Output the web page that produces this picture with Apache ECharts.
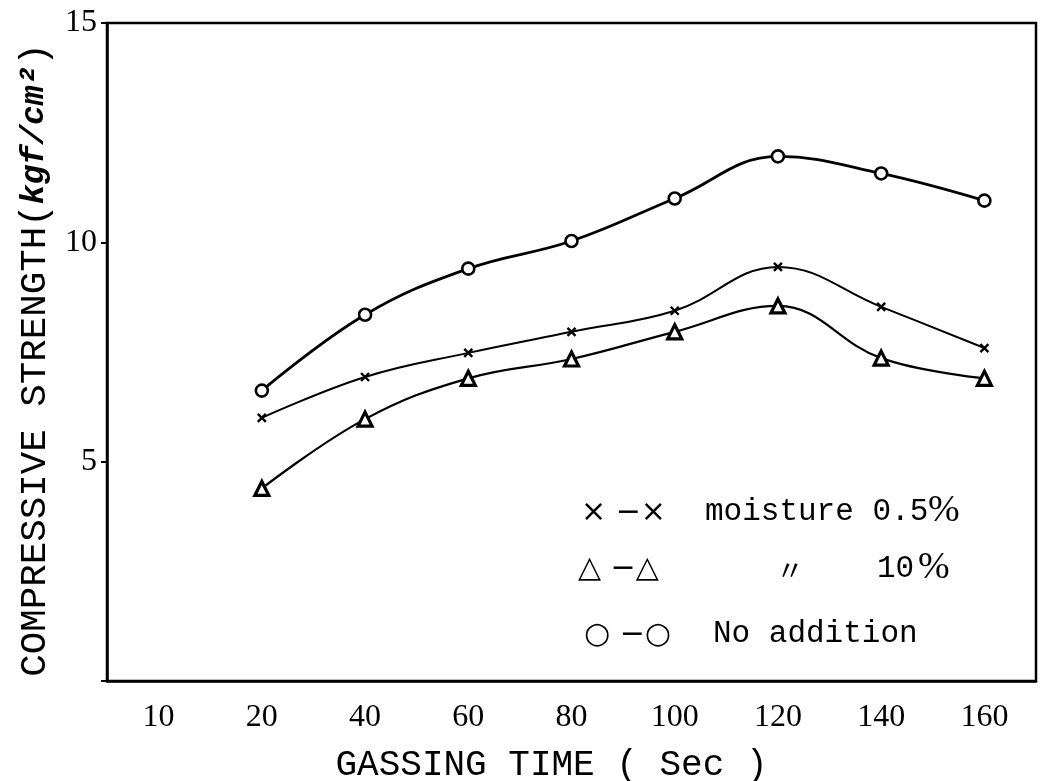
<!DOCTYPE html>
<html>
<head>
<meta charset="utf-8">
<script src="https://cdn.jsdelivr.net/npm/echarts@6/dist/echarts.min.js"></script>
<style>html,body{margin:0;padding:0;background:#fff}#c{width:1048px;height:781px}</style>
</head>
<body>
<div id="c"></div>
<script>
// ---- data ----
const categories = ['10', '20', '40', '60', '80', '100', '120', '140', '160'];
const moisture05 = [null, 6.0, 6.93, 7.48, 7.96, 8.44, 9.44, 8.53, 7.59];
const moisture10 = [null, 4.39, 5.97, 6.9, 7.34, 7.96, 8.55, 7.36, 6.9];
const noAddition = [null, 6.62, 8.35, 9.4, 10.03, 11.0, 11.96, 11.57, 10.95];
const yLabels = [5, 10, 15];

const serif = 'Liberation Serif';
const mono = 'Liberation Mono';
const chart = echarts.init(document.getElementById('c'), null, {renderer: 'canvas'});

const xPath = 'path://M0,0 L10,10 M10,0 L0,10';

chart.setOption({
  animation: false,
  backgroundColor: '#fff',
  grid: {left: 107, right: 12, top: 23, bottom: 100, show: true, borderColor: '#000', borderWidth: 2.5,
         containLabel: false, outerBoundsMode: 'none'},
  xAxis: {
    type: 'category',
    data: categories,
    boundaryGap: true,
    name: 'GASSING TIME ( Sec )',
    nameLocation: 'middle',
    nameGap: 66,
    nameTextStyle: {fontFamily: mono, fontSize: 36, color: '#000', padding: [0, 40, 0, 0]},
    axisLine: {lineStyle: {color: '#000', width: 2.5}},
    axisTick: {alignWithLabel: true, length: 7, lineStyle: {color: '#000', width: 2}},
    axisLabel: {fontFamily: serif, fontSize: 32, color: '#000', margin: 21},
    splitLine: {show: false}
  },
  yAxis: {
    type: 'value',
    min: 0, max: 15, interval: 5,
    name: '{a|COMPRESSIVE STRENGTH(}{b|kgf/cm²}{a|)}',
    nameLocation: 'middle',
    nameGap: 47,
    nameRotate: 90,
    nameTextStyle: {
      padding: [0, 16, 0, 0],
      rich: {
        a: {fontFamily: mono, fontSize: 37.5, color: '#000'},
        b: {fontFamily: mono, fontSize: 33, color: '#000', fontStyle: 'italic', fontWeight: 'bold'}
      }
    },
    axisLine: {show: true, lineStyle: {color: '#000', width: 2.5}},
    axisTick: {show: true, length: 6, lineStyle: {color: '#000', width: 2}},
    axisLabel: {
      fontFamily: serif, fontSize: 32, color: '#000', margin: 10,
      formatter: v => (yLabels.indexOf(v) >= 0 ? String(v) : '')
    },
    splitLine: {show: false}
  },
  series: [
    {
      name: 'moisture 0.5%', type: 'line', data: moisture05, smooth: 0.4, connectNulls: false,
      symbol: xPath, symbolSize: 8,
      lineStyle: {color: '#000', width: 2},
      itemStyle: {color: '#000', borderColor: '#000', borderWidth: 2.4}
    },
    {
      name: 'moisture 10%', type: 'line', data: moisture10, smooth: 0.4,
      symbol: 'triangle', symbolSize: 14,
      lineStyle: {color: '#000', width: 2.2},
      itemStyle: {color: '#fff', borderColor: '#000', borderWidth: 3.2}
    },
    {
      name: 'No addition', type: 'line', data: noAddition, smooth: 0.4,
      symbol: 'circle', symbolSize: 12,
      lineStyle: {color: '#000', width: 2.8},
      itemStyle: {color: '#fff', borderColor: '#000', borderWidth: 2.6}
    }
  ],
  graphic: [
    {type: 'text', left: 581, top: 498, style: {text: '× −×', font: '30px "DejaVu Sans"', fill: '#000'}},
    {type: 'text', left: 705, top: 496, style: {text: 'moisture 0.5', font: '31px "Liberation Mono"', fill: '#000'}},
    {type: 'text', left: 928, top: 492, style: {text: '%', font: '38px "Liberation Serif"', fill: '#000'}},
    {type: 'text', left: 578, top: 554, style: {text: '△ −△', font: '30px "DejaVu Sans"', fill: '#000'}},
    {type: 'text', left: 776, top: 556, style: {text: '〃', font: '28px "Noto Sans CJK JP"', fill: '#000'}},
    {type: 'text', left: 877, top: 553, style: {text: '10', font: '31px "Liberation Mono"', fill: '#000'}},
    {type: 'text', left: 918, top: 549, style: {text: '%', font: '38px "Liberation Serif"', fill: '#000'}},
    {type: 'text', left: 584, top: 620, style: {text: '○ −○', font: '30px "DejaVu Sans"', fill: '#000'}},
    {type: 'text', left: 713, top: 618, style: {text: 'No addition', font: '31px "Liberation Mono"', fill: '#000'}}
  ]
});
</script>
</body>
</html>
